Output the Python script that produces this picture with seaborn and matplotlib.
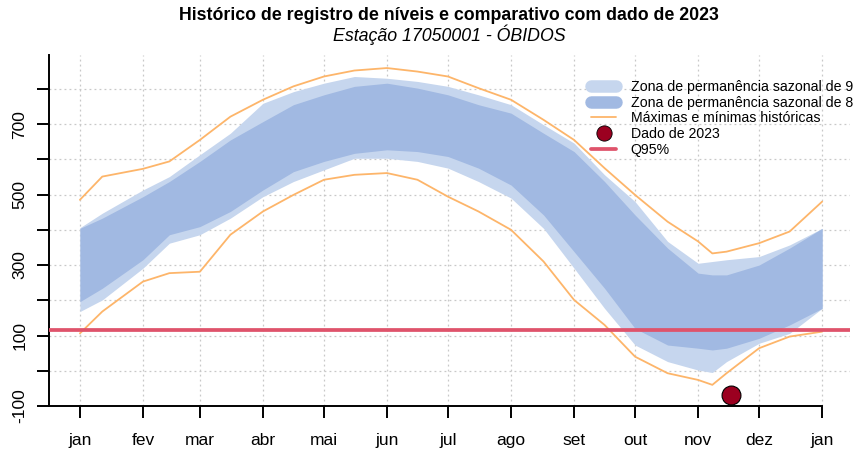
import numpy as np
import pandas as pd
import matplotlib
matplotlib.use("Agg")
import matplotlib.pyplot as plt
import seaborn as sns
from matplotlib.lines import Line2D

# ---- data ----
days = [0, 11, 31, 44, 59, 74, 90, 105, 120, 135, 151, 166, 181, 196, 212,
        228, 243, 258, 273, 289, 304, 311, 318, 334, 349, 365]
hist_max = [485, 551, 573, 594, 655, 721, 769, 807, 835, 852, 859, 849, 835, 802, 769,
            712, 655, 575, 499, 423, 367, 333, 338, 362, 395, 480]
q90_high = [406, 447, 513, 551, 613, 674, 759, 792, 816, 835, 830, 821, 807, 783, 755,
            698, 646, 556, 480, 367, 305, 310, 315, 324, 357, 404]
q80_high = [404, 433, 494, 537, 594, 655, 707, 755, 783, 807, 816, 802, 783, 755, 731,
            674, 622, 537, 442, 348, 277, 272, 272, 300, 348, 404]
q80_low = [196, 234, 315, 386, 409, 452, 513, 565, 594, 617, 627, 622, 608, 575, 527,
           442, 338, 234, 120, 73, 64, 59, 64, 92, 130, 177]
q90_low = [168, 201, 291, 362, 386, 433, 494, 537, 570, 603, 603, 594, 575, 537, 490,
           404, 291, 177, 73, 26, 2, -5, 26, 78, 106, 177]
hist_min = [106, 168, 253, 277, 281, 386, 452, 499, 542, 556, 561, 542, 494, 452, 400,
            310, 201, 130, 40, -7, -26, -40, -7, 64, 97, 111]
q95 = 116
obs_day = [320]
obs_val = [-70]
month_days = [0, 31, 59, 90, 120, 151, 181, 212, 243, 273, 304, 334, 365]
month_labels = ["jan", "fev", "mar", "abr", "mai", "jun", "jul", "ago", "set",
                "out", "nov", "dez", "jan"]
y_ticks = [-100, 0, 100, 200, 300, 400, 500, 600, 700, 800]
y_labels = ["-100", "", "100", "", "300", "", "500", "", "700", ""]
legend_labels = ["Zona de permanência sazonal de 90%",
                 "Zona de permanência sazonal de 80%",
                 "Máximas e mínimas históricas",
                 "Dado de 2023",
                 "Q95%"]

# ---- style ----
sns.set_theme(style="white")
plt.rcParams["font.family"] = ["Liberation Sans", "DejaVu Sans"]
plt.rcParams["text.color"] = "black"
plt.rcParams["xtick.color"] = "black"
plt.rcParams["ytick.color"] = "black"

c_light = "#C6D6EE"
c_dark = "#A1B9E2"
c_orange = "#FDB56A"
c_red = "#DF536B"
c_dot = "#9B0020"

df = pd.DataFrame({"day": days, "max": hist_max, "min": hist_min})

fig = plt.figure(figsize=(8.54, 4.54), dpi=100)
ax = fig.add_axes([49 / 854, 48 / 454, 801 / 854, 351 / 454])

# grid
for d in month_days:
    ax.axvline(d, color="#c8c8c8", lw=0.9, ls=(0, (1.5, 2.5)), zorder=0)
for v in range(0, 801, 100):
    ax.axhline(v, color="#c8c8c8", lw=0.9, ls=(0, (1.5, 2.5)), zorder=0)

ax.fill_between(days, q90_low, q90_high, color=c_light, lw=0, zorder=1)
ax.fill_between(days, q80_low, q80_high, color=c_dark, lw=0, zorder=2)
sns.lineplot(data=df, x="day", y="max", ax=ax, color=c_orange, lw=1.3, zorder=3)
sns.lineplot(data=df, x="day", y="min", ax=ax, color=c_orange, lw=1.3, zorder=3)
ax.axhline(q95, color=c_red, lw=2.7, zorder=4)
sns.scatterplot(x=obs_day, y=obs_val, ax=ax, color=c_dot, s=185,
                edgecolor="black", linewidth=0.8, zorder=5)

ax.set_xlim(-15.2, 378.7)
ax.set_ylim(-100, 896)
ax.set_xlabel("")
ax.set_ylabel("")

ax.set_xticks(month_days)
ax.set_xticklabels(month_labels, fontsize=12.5)
ax.set_yticks(y_ticks)
ax.set_yticklabels(y_labels, fontsize=12.5, rotation=90, va="center")
ax.tick_params(axis="both", direction="out", length=8.5, width=1.4,
               bottom=True, left=True)
ax.tick_params(axis="x", pad=11)
ax.tick_params(axis="y", pad=7)

for s in ["top", "right"]:
    ax.spines[s].set_visible(False)
for s in ["left", "bottom"]:
    ax.spines[s].set_color("black")
    ax.spines[s].set_linewidth(1.4)
ax.spines["bottom"].set_bounds(-15.2, 365)

handles = [
    Line2D([], [], color=c_light, lw=9, solid_capstyle="round"),
    Line2D([], [], color=c_dark, lw=9, solid_capstyle="round"),
    Line2D([], [], color=c_orange, lw=1.3),
    Line2D([], [], marker="o", ls="", markersize=11, markerfacecolor=c_dot,
           markeredgecolor="black", markeredgewidth=0.6),
    Line2D([], [], color=c_red, lw=2.7),
]
leg = ax.legend(handles, legend_labels, loc="upper left",
                bbox_to_anchor=((591 - 49) / 801, (406 - 80) / 351),
                frameon=False, fontsize=10.2, handlelength=1.8,
                handletextpad=1.0, labelspacing=0.12, borderaxespad=0,
                borderpad=0)

fig.text(449 / 854, 1 - 16 / 454, "Histórico de registro de níveis e comparativo com dado de 2023",
         ha="center", va="center", fontsize=12.8, fontweight="bold")
fig.text(449 / 854, 1 - 35 / 454, "Estação 17050001 - ÓBIDOS",
         ha="center", va="center", fontsize=12.8, style="italic")

fig.savefig("out.png", dpi=100)
